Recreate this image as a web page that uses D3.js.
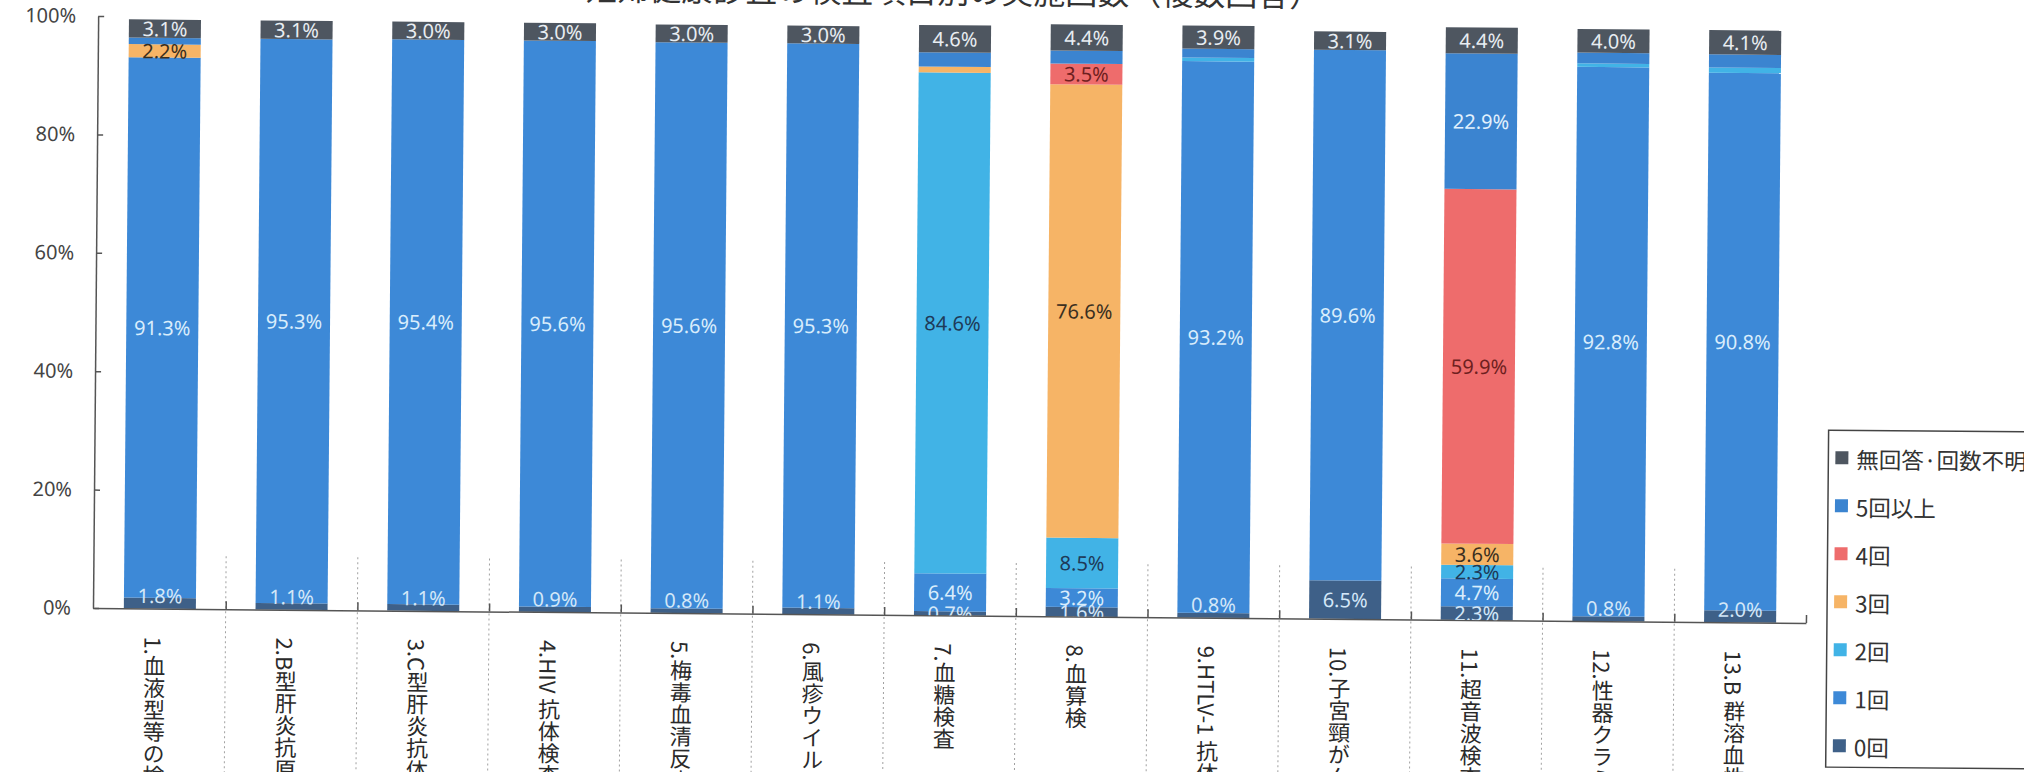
<!DOCTYPE html>
<html>
<head>
<meta charset="utf-8">
<script src="https://cdn.jsdelivr.net/npm/d3@7"></script>
<style>
  html, body { margin: 0; padding: 0; background: #fff; overflow: hidden; }
  svg { display: block; }
</style>
</head>
<body>
<svg id="chart" width="2024" height="772"></svg>
<script>
// Test items (x-axis categories)
const categories = [
  "1.血液型等の検査", "2.B型肝炎抗原検査", "3.C型肝炎抗体検査", "4.HIV 抗体検査",
  "5.梅毒血清反応検査", "6.風疹ウイルス抗体検査", "7.血糖検査", "8.血算検",
  "9.HTLV-1 抗体検査", "10.子宮頸がん検診", "11.超音波検査", "12.性器クラミジア",
  "13.B 群溶血性レンサ球菌"
];

// Stack order, bottom to top
const seriesKeys = ["0回", "1回", "2回", "3回", "4回", "5回以上", "無回答·回数不明"];

// Share of respondents (%) per number of times, one value per test item
const times0    = [1.8, 1.1, 1.1, 0.9, 0.8, 1.1, 0.7, 1.6, 0.8, 6.5, 2.3, 0.8, 2.0];
const times1    = [91.3, 95.3, 95.4, 95.6, 95.6, 95.3, 6.4, 3.2, 93.2, 89.6, 4.7, 92.8, 90.8];
const times2    = [0, 0, 0, 0, 0, 0, 84.6, 8.5, 0.6, 0, 2.3, 0.6, 0.9];
const times3    = [2.2, 0, 0, 0, 0, 0, 1.0, 76.6, 0, 0, 3.6, 0, 0];
const times4    = [0, 0, 0, 0, 0, 0, 0, 3.5, 0, 0, 59.9, 0, 0];
const times5up  = [1.1, 0, 0, 0, 0, 0, 2.4, 2.2, 1.5, 0, 22.9, 1.8, 2.2];
const noAnswer  = [3.1, 3.1, 3.0, 3.0, 3.0, 3.0, 4.6, 4.4, 3.9, 3.1, 4.4, 4.0, 4.1];

// Thin segments that carry no data label: [category index, series]
const unlabelled = [
  [0, "5回以上"], [6, "3回"], [6, "5回以上"], [7, "5回以上"],
  [8, "2回"], [8, "5回以上"], [11, "2回"], [11, "5回以上"], [12, "2回"], [12, "5回以上"]
];

const yTicks = [0, 20, 40, 60, 80, 100];
const chartTitle = "妊婦健康診査の検査項目別の実施回数（複数回答）";

const seriesValues = {
  "0回": times0, "1回": times1, "2回": times2, "3回": times3,
  "4回": times4, "5回以上": times5up, "無回答·回数不明": noAnswer
};

const fills = {
  "0回": "#3e6088", "1回": "#3d89d7", "2回": "#41b3e6", "3回": "#f6b466",
  "4回": "#ee6c6c", "5回以上": "#3b84d0", "無回答·回数不明": "#4e5660"
};
const labelInk = {
  "0回": "#d3e7f8", "1回": "#d9edfc", "2回": "#1e3a58", "3回": "#3a2f1f",
  "4回": "#6e1f1f", "5回以上": "#e2f1fd", "無回答·回数不明": "#e8edf2"
};

const rows = categories.map((c, i) => {
  const r = { cat: c, idx: i };
  seriesKeys.forEach(k => { r[k] = seriesValues[k][i]; });
  return r;
});

const svg = d3.select("#chart");
const plotLeft = 94, plotRight = 1806, plotBase = 608, plotTop = 16;

const x = d3.scaleBand().domain(categories).range([plotLeft, plotRight])
  .paddingInner(0.453).paddingOuter(0.2265);
const y = d3.scaleLinear().domain([0, 100]).range([plotBase, plotTop]);
const bounds = d3.scaleLinear().domain([0, categories.length]).range([plotLeft, plotRight]);

// whole sheet sits slightly askew
const g = svg.append("g").attr("transform", `rotate(0.5, 93, ${plotBase})`);

// title (mostly above the sheet edge)
g.append("text")
  .attr("x", 948).attr("y", -4)
  .attr("text-anchor", "middle")
  .style("font-family", "'Noto Sans CJK JP', sans-serif")
  .style("font-size", "32px")
  .attr("fill", "#333")
  .text(chartTitle);

// dotted column separators under the axis
g.append("g").selectAll("line")
  .data(d3.range(1, categories.length))
  .join("line")
  .attr("x1", d => bounds(d)).attr("x2", d => bounds(d))
  .attr("y1", 555).attr("y2", 800)
  .attr("stroke", "#a0a0a0").attr("stroke-width", 1)
  .attr("stroke-dasharray", "2,3");

// stacked bars
const stacked = d3.stack().keys(seriesKeys)(rows);
const layers = g.append("g").selectAll("g")
  .data(stacked).join("g")
  .attr("fill", d => fills[d.key]);
layers.selectAll("rect")
  .data(d => d.map(s => ({ key: d.key, s })))
  .join("rect")
  .attr("x", d => x(d.s.data.cat))
  .attr("width", x.bandwidth())
  .attr("y", d => y(d.s[1]))
  .attr("height", d => Math.max(0, y(d.s[0]) - y(d.s[1])));

// axes
const yAxis = d3.axisLeft(y).tickValues(yTicks).tickFormat(d => d + "%")
  .tickSizeInner(-6).tickSizeOuter(0).tickPadding(22);
const ya = g.append("g").attr("transform", `translate(${plotLeft - 1},0)`).call(yAxis);
ya.select(".domain").attr("stroke", "#555").attr("stroke-width", 1.5);
ya.selectAll(".tick line").attr("stroke", "#555").attr("stroke-width", 1.5);
ya.selectAll(".tick text")
  .style("font-family", "'Noto Sans', sans-serif")
  .style("font-size", "20px")
  .attr("fill", "#444");

const xAxis = d3.axisBottom(bounds).tickValues(d3.range(1, categories.length + 1))
  .tickFormat("").tickSizeInner(-8).tickSizeOuter(0);
const xa = g.append("g").attr("transform", `translate(0,${plotBase})`).call(xAxis);
xa.select(".domain").attr("stroke", "#555").attr("stroke-width", 1.5);
xa.selectAll(".tick line").attr("stroke", "#555").attr("stroke-width", 1.5);

// data labels, clipped to the plot area
svg.append("defs").append("clipPath").attr("id", "plotClip")
  .append("rect").attr("x", 0).attr("y", -50).attr("width", 2024).attr("height", plotBase + 50);

const skip = new Set(unlabelled.map(([i, k]) => i + "|" + k));
const labelData = [];
stacked.forEach((layer, li) => {
  layer.forEach(s => {
    const i = s.data.idx, key = layer.key, v = s.data[key];
    if (!v || skip.has(i + "|" + key)) return;
    let cy = (y(s[0]) + y(s[1])) / 2;
    if (li === 0) {
      const above = s.data["1回"];
      if (above >= 10) cy = Math.min(cy, plotBase - 13);
    }
    labelData.push({ key, v, cx: x(s.data.cat) + x.bandwidth() / 2, cy });
  });
});
g.append("g").attr("clip-path", "url(#plotClip)")
  .selectAll("text").data(labelData).join("text")
  .attr("x", d => d.cx).attr("y", d => d.cy)
  .attr("text-anchor", "middle")
  .attr("dominant-baseline", "central")
  .style("font-family", "'Noto Sans', sans-serif")
  .style("font-size", "20px")
  .attr("fill", d => labelInk[d.key])
  .text(d => d.v.toFixed(1) + "%");

// vertical category labels
g.append("g").selectAll("text")
  .data(categories).join("text")
  .attr("x", d => x(d) + x.bandwidth() / 2 - 5)
  .attr("y", 636)
  .style("writing-mode", "vertical-rl")
  .style("text-orientation", "mixed")
  .style("font-family", "'Noto Sans CJK JP', sans-serif")
  .style("font-size", "22px")
  .attr("fill", "#2a2a2a")
  .text(d => d);

// legend
const legendKeys = seriesKeys.slice().reverse();
const lg = g.append("g");
lg.append("rect")
  .attr("x", 1827).attr("y", 415).attr("width", 260).attr("height", 337)
  .attr("fill", "none").attr("stroke", "#444").attr("stroke-width", 1.5);
const items = lg.selectAll("g.item").data(legendKeys).join("g")
  .attr("class", "item")
  .attr("transform", (d, i) => `translate(1834,${443 + i * 48})`);
items.append("rect").attr("x", 0).attr("y", -7).attr("width", 13).attr("height", 13)
  .attr("fill", d => fills[d]);
items.append("text").attr("x", 21).attr("y", 0)
  .attr("dominant-baseline", "central")
  .style("font-family", "'Noto Sans CJK JP', sans-serif")
  .style("font-size", "22.5px")
  .attr("fill", "#333")
  .text(d => d);
</script>
</body>
</html>
